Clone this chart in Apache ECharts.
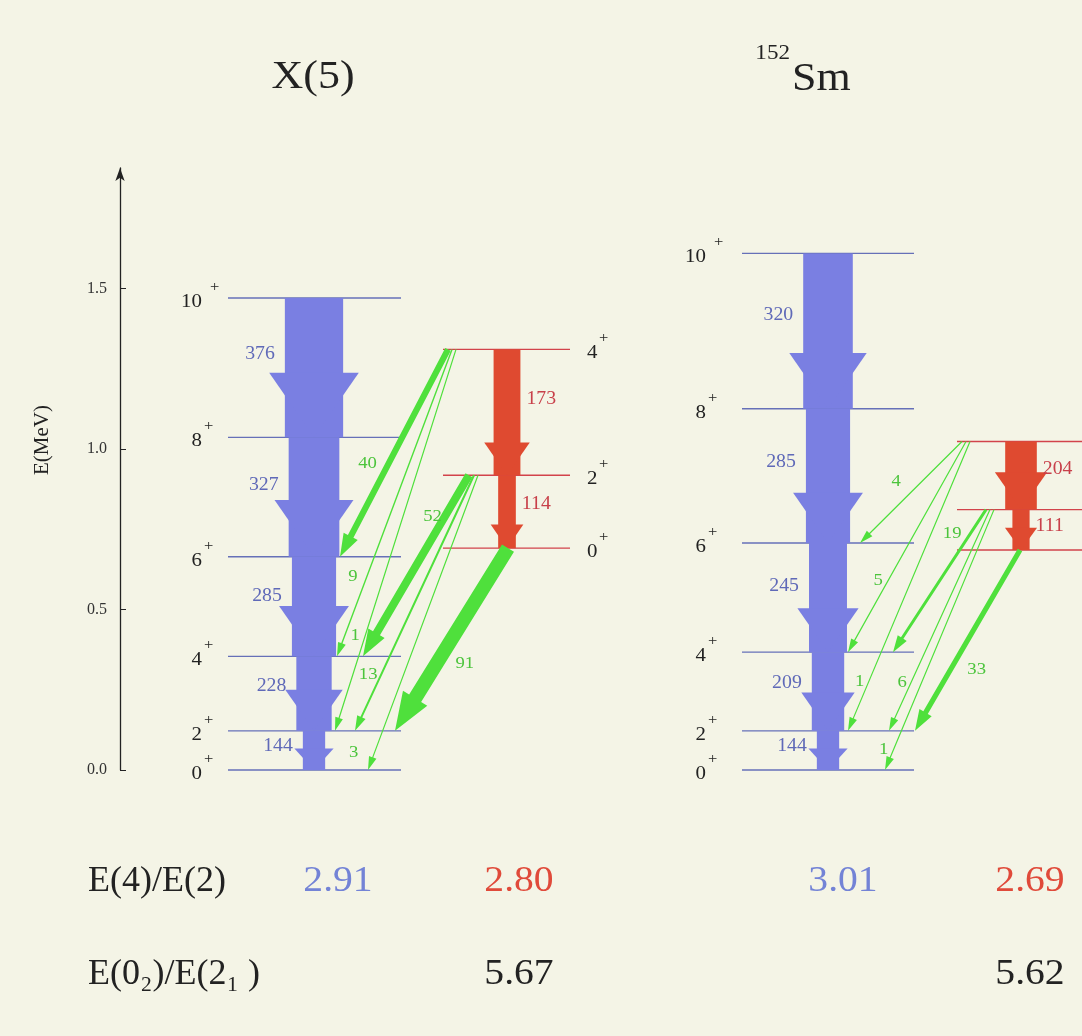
<!DOCTYPE html>
<html>
<head>
<meta charset="utf-8">
<title>X(5) and 152Sm level schemes</title>
<script src="https://cdn.jsdelivr.net/npm/echarts@6/dist/echarts.min.js"></script>
<style>
html, body { margin: 0; padding: 0; background: #f4f4e6; }
#chart { width: 1082px; height: 1036px; }
</style>
</head>
<body>
<div id="chart"></div>
<script>
// level energies (MeV)
const x5GroundE = [0, 0.122, 0.354, 0.664, 1.036, 1.470];
const x5BetaE = [0.691, 0.918, 1.310];
const smGroundE = [0, 0.122, 0.367, 0.707, 1.125, 1.609];
const smBetaE = [0.685, 0.811, 1.023];
const groundSpins = ['0', '2', '4', '6', '8', '10'];
const betaSpins = ['0', '2', '4'];

// in-band B(E2), transition i goes from level i+1 down to level i
const x5GroundBE2 = [144, 228, 285, 327, 376];
const x5BetaBE2 = [114, 173];
const smGroundBE2 = [144, 209, 245, 285, 320];
const smBetaBE2 = [111, 204];

// interband: [beta level, ground level, B(E2)]
const x5Inter = [[2, 3, 40], [2, 2, 9], [2, 1, 1], [1, 2, 52], [1, 1, 13], [1, 0, 3], [0, 1, 91]];
const smInter = [[2, 3, 4], [2, 2, 5], [2, 1, 1], [1, 2, 19], [1, 1, 6], [1, 0, 1], [0, 1, 33]];

// ratios shown under the schemes
const ratioNames = ['E(4)/E(2)', 'E(0₂)/E(2₁ )'];
const x5Ratios = [['2.91', '2.80'], ['', '5.67']];
const smRatios = [['3.01', '2.69'], ['', '5.62']];
const yTicks = [0, 0.5, 1.0, 1.5];

const BLUE = '#7a7fe2';
const BLUE_LINE = '#6670b8';
const BLUE_TXT = '#5f69b8';
const RED = '#df4a30';
const RED_LINE = '#d2434b';
const RED_TXT = '#c8404a';
const GREEN = '#4fe03c';
const GREEN_TXT = '#4cc43c';
const SERIF = '"Liberation Serif", "Times New Roman", serif';
const SX = 1.1;
const K = 0.155; // px per B(E2) unit

// drawing positions of each scheme (pixels across)
const layout = [
  {
    gx: [228, 401], bx: [443, 570], gcx: 314, bcx: 507, spinX: 202, bSpinX: 587,
    startX: [448, 452, 456, 469, 474, 478, 508],
    tipX: [340, 337, 335, 363, 355, 368, 395],
    labT: [0.55, 0.74, 0.75, 0.23, 0.78, 0.94, 0.63],
    labDx: [-21, -14, -10, -12, -13, -21, 28]
  },
  {
    gx: [742, 914], bx: [957, 1082], gcx: 828, bcx: 1021, spinX: 706, bSpinX: null,
    startX: [962, 966, 970, 986, 990, 994, 1020],
    tipX: [860, 848, 848, 893, 889, 885, 915],
    labT: [0.39, 0.66, 0.83, 0.17, 0.78, 0.92, 0.66],
    labDx: [-26, -10, -9, -18, -9, -10, 26]
  }
];

const schemes = [
  { ground: x5GroundE, beta: x5BetaE, gB: x5GroundBE2, bB: x5BetaBE2, inter: x5Inter },
  { ground: smGroundE, beta: smBetaE, gB: smGroundBE2, bB: smBetaBE2, inter: smInter }
];

const levelRows = [];
const bandRows = [];
const interRows = [];
schemes.forEach((sc, s) => {
  sc.ground.forEach((e, i) => levelRows.push([s, 0, i, e]));
  sc.beta.forEach((e, i) => levelRows.push([s, 1, i, e]));
  sc.gB.forEach((v, i) => bandRows.push([s, 0, i, sc.ground[i + 1], sc.ground[i], v]));
  sc.bB.forEach((v, i) => bandRows.push([s, 1, i, sc.beta[i + 1], sc.beta[i], v]));
  sc.inter.forEach((t, k) => interRows.push([s, k, sc.beta[t[0]], sc.ground[t[1]], t[2]]));
});

function txt(x, y, s, size, color, align, vAlign, sx) {
  return {
    type: 'text', x, y, scaleX: sx || SX, silent: true,
    style: {
      text: s, fill: color, fontSize: size, fontFamily: SERIF,
      align: align || 'center', verticalAlign: vAlign || 'middle'
    }
  };
}

function renderLevel(params, api) {
  const s = api.value(0), band = api.value(1), i = api.value(2), e = api.value(3);
  const L = layout[s];
  const xs = band === 0 ? L.gx : L.bx;
  const y = api.coord([L.gcx, e])[1];
  const children = [{
    type: 'line', silent: true,
    shape: { x1: xs[0], y1: y, x2: xs[1], y2: y },
    style: { stroke: band === 0 ? BLUE_LINE : RED_LINE, lineWidth: 1.4 }
  }];
  const spin = band === 0 ? groundSpins[i] : betaSpins[i];
  if (band === 0) {
    children.push(txt(L.spinX, y + 4, spin, 19, '#222', 'right'));
    children.push(txt(L.spinX + 2 + (spin.length - 1) * 6, y - 11, '+', 15, '#222', 'left'));
  } else if (L.bSpinX != null) {
    children.push(txt(L.bSpinX, y + 4, spin, 19, '#222', 'left'));
    children.push(txt(L.bSpinX + 12, y - 11, '+', 15, '#222', 'left'));
  }
  return { type: 'group', children };
}

function renderBand(params, api) {
  const s = api.value(0), band = api.value(1);
  const eTop = api.value(3), eBot = api.value(4), v = api.value(5);
  const L = layout[s];
  const cx = band === 0 ? L.gcx : L.bcx;
  const yTop = api.coord([cx, eTop])[1];
  const yBot = api.coord([cx, eBot])[1];
  const w = v * K;
  const hw = w * 1.4 + 8;
  const hl = Math.min(hw * 0.72, (yBot - yTop) * 0.55);
  const color = band === 0 ? BLUE : RED;
  const span = yBot - yTop;
  const ly = (yTop + yBot) / 2 - span * 0.1;
  return {
    type: 'group',
    children: [
      { type: 'rect', silent: true, shape: { x: cx - w / 2, y: yTop, width: w, height: span }, style: { fill: color } },
      {
        type: 'polygon', silent: true,
        shape: { points: [[cx - hw / 2, yBot - hl], [cx + hw / 2, yBot - hl], [cx, yBot]] },
        style: { fill: color }
      },
      band === 0
        ? txt(cx - w / 2 - 10, ly, String(v), 18, BLUE_TXT, 'right')
        : txt(cx + w / 2 + 6, ly, String(v), 18, RED_TXT, 'left')
    ]
  };
}

function renderInter(params, api) {
  const s = api.value(0), k = api.value(1);
  const eFrom = api.value(2), eTo = api.value(3), v = api.value(4);
  const L = layout[s];
  const p0 = [L.startX[k], api.coord([L.startX[k], eFrom])[1]];
  const p1 = [L.tipX[k], api.coord([L.tipX[k], eTo])[1]];
  const dx = p1[0] - p0[0], dy = p1[1] - p0[1];
  const len = Math.sqrt(dx * dx + dy * dy);
  const ux = dx / len, uy = dy / len;
  const nx = -uy, ny = ux;
  const w = Math.max(v * K, 1.2);
  const hw = w * 1.6 + 6;
  const hl = hw * 1.2 + 4;
  const bx = p1[0] - ux * hl, by = p1[1] - uy * hl;
  const pts = [
    [p0[0] + nx * w / 2, p0[1] + ny * w / 2],
    [bx + nx * w / 2, by + ny * w / 2],
    [bx + nx * hw / 2, by + ny * hw / 2],
    p1,
    [bx - nx * hw / 2, by - ny * hw / 2],
    [bx - nx * w / 2, by - ny * w / 2],
    [p0[0] - nx * w / 2, p0[1] - ny * w / 2]
  ];
  const t = L.labT[k];
  const lx = p0[0] + dx * t + L.labDx[k];
  const ly = p0[1] + dy * t;
  return {
    type: 'group',
    children: [
      { type: 'polygon', silent: true, shape: { points: pts }, style: { fill: GREEN } },
      txt(lx, ly, String(v), 17, GREEN_TXT, 'center')
    ]
  };
}

const graphics = [
  txt(313, 77, 'X(5)', 40, '#222', 'center'),
  txt(792, 79, 'Sm', 40, '#222', 'left'),
  txt(790, 53, '152', 21, '#222', 'right'),
  Object.assign(txt(42, 440, 'E(MeV)', 21, '#222', 'center', 'middle', 1), { rotation: Math.PI / 2 })
];
const colX = [[338, 519], [843, 1030]];
ratioNames.forEach((name, r) => {
  const y = r === 0 ? 882 : 975;
  graphics.push(txt(88, y, name, 36, '#222', 'left', 'middle', 1));
  [x5Ratios, smRatios].forEach((vals, s) => {
    vals[r].forEach((val, c) => {
      if (!val) return;
      graphics.push(txt(colX[s][c], y, val, 36, r === 0 ? (c === 0 ? '#7383d6' : '#e04a3a') : '#222', 'center'));
    });
  });
});

const chart = echarts.init(document.getElementById('chart'));
chart.setOption({
  backgroundColor: '#f4f4e6',
  animation: false,
  grid: { left: 120, right: 0, top: 168, bottom: 266 },
  xAxis: { type: 'value', min: 120, max: 1082, show: false },
  yAxis: {
    type: 'value', min: 0, max: 1.875,
    axisLine: {
      show: true, symbol: ['none', 'arrow'], symbolSize: [7, 13],
      lineStyle: { color: '#222', width: 1.3 }
    },
    axisTick: { show: true, inside: true, length: 6, customValues: yTicks, lineStyle: { color: '#222' } },
    axisLabel: {
      customValues: yTicks, margin: 13, fontSize: 16, fontFamily: SERIF, color: '#333',
      formatter: (v) => v.toFixed(1)
    },
    splitLine: { show: false }
  },
  graphic: graphics,
  series: [
    { type: 'custom', renderItem: renderLevel, data: levelRows, clip: false, z: 2 },
    { type: 'custom', renderItem: renderBand, data: bandRows, clip: false, z: 3 },
    { type: 'custom', renderItem: renderInter, data: interRows, clip: false, z: 4 }
  ]
});
</script>
</body>
</html>
